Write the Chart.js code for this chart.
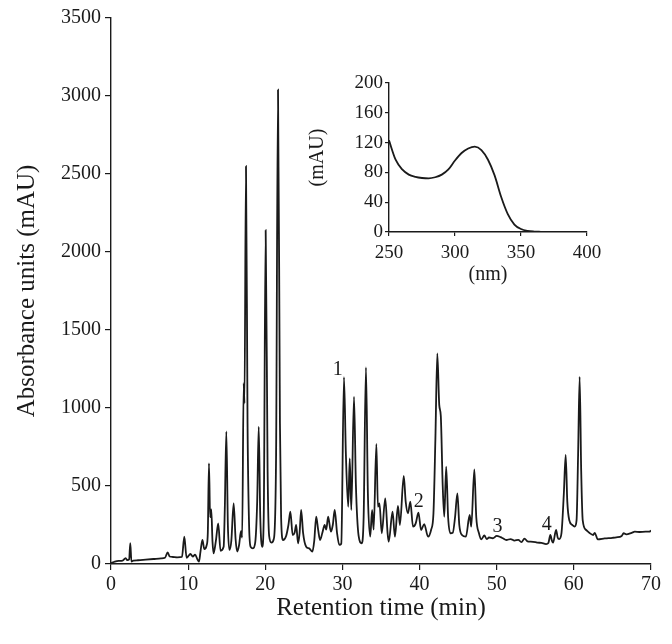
<!DOCTYPE html>
<html>
<head>
<meta charset="utf-8">
<script src="https://cdn.jsdelivr.net/npm/chart.js@4.4.1/dist/chart.umd.min.js"></script>
<style>
  html, body { margin: 0; padding: 0; background: #fff; }
  #wrap { position: relative; width: 672px; height: 644px; }
  #wrap canvas { position: absolute; left: 0; top: 0; }
</style>
</head>
<body>
<div id="wrap">
  <canvas id="mainChart" width="672" height="644"></canvas>
  <canvas id="insetChart" width="672" height="644"></canvas>
</div>
<script>
// chromatogram (min, mAU)
const retentionTimes = [
  0.0, 0.5, 1.0, 1.5, 1.9, 2.1, 2.35, 2.5, 2.65, 2.9, 3.5, 4.5, 5.5, 6.5, 7.0, 7.35, 7.6, 8.0, 8.6, 9.2,
  9.5, 9.8, 10.1, 10.3, 10.6, 10.9, 11.2, 11.4, 11.6, 11.85, 12.1, 12.4, 12.55, 12.7, 12.85, 13.0, 13.15, 13.3, 13.6, 13.9,
  14.2, 14.6, 14.75, 14.95, 15.15, 15.35, 15.6, 15.9, 16.15, 16.35, 16.6, 16.85, 17.0, 17.2, 17.3, 17.5, 17.7, 17.9, 18.1, 18.4,
  18.7, 18.95, 19.15, 19.35, 19.6, 19.8, 20.05, 20.3, 20.5, 20.8, 21.1, 21.4, 21.65, 21.9, 22.05, 22.3, 22.7, 23.0, 23.25, 23.55,
  23.8, 24.0, 24.25, 24.45, 24.65, 24.9, 25.3, 25.7, 26.1, 26.35, 26.6, 26.85, 27.1, 27.4, 27.7, 27.9, 28.15, 28.5, 28.75, 29.0,
  29.3, 29.6, 29.85, 30.2, 30.45, 30.75, 30.95, 31.15, 31.5, 31.75, 32.1, 32.5, 32.75, 33.05, 33.3, 33.6, 33.85, 34.05, 34.4, 34.6,
  34.8, 35.1, 35.55, 35.85, 36.0, 36.5, 36.8, 37.2, 37.45, 37.95, 38.2, 38.5, 38.8, 39.15, 39.5, 39.85, 40.2, 40.6, 41.1, 41.5,
  41.8, 42.05, 42.3, 42.55, 42.75, 43.0, 43.2, 43.45, 43.7, 44.0, 44.3, 44.6, 44.9, 45.15, 45.5, 46.0, 46.5, 46.7, 47.1, 47.35,
  47.7, 48.0, 48.4, 48.7, 49.0, 49.5, 50.0, 50.5, 50.8, 51.25, 51.8, 52.3, 52.8, 53.2, 53.6, 54.0, 54.4, 55.0, 55.3, 55.8,
  56.4, 56.7, 56.95, 57.15, 57.3, 57.7, 57.9, 58.1, 58.4, 58.7, 58.94, 59.15, 59.4, 59.8, 60.1, 60.35, 60.55, 60.75, 60.95, 61.15,
  61.6, 62.0, 62.5, 62.7, 63.1, 64.0, 65.0, 65.5, 66.2, 66.45, 66.8, 67.5, 67.9, 68.5, 69.3, 69.8, 70.0
];
const absorbance = [
  5, 15, 20, 22, 38, 25, 30, 133, 15, 22, 24, 28, 32, 36, 40, 75, 48, 45, 43, 45,
  175, 40, 55, 64, 48, 60, 30, 15, 80, 154, 95, 120, 200, 645, 300, 350, 150, 68, 150, 260,
  85, 110, 350, 850, 250, 90, 150, 389, 160, 80, 120, 210, 170, 1160, 1030, 2550, 900, 250, 110, 100,
  140, 400, 880, 300, 110, 300, 2140, 600, 180, 137, 160, 700, 3040, 900, 300, 154, 180, 250, 335, 186,
  200, 250, 133, 200, 346, 200, 111, 100, 79, 150, 303, 220, 154, 200, 250, 220, 303, 207, 250, 346,
  200, 122, 130, 1197, 700, 367, 677, 346, 1073, 500, 180, 133, 300, 1260, 450, 175, 346, 220, 770, 367,
  389, 197, 421, 200, 143, 335, 175, 372, 250, 564, 400, 325, 400, 239, 260, 329, 218, 256, 175, 220,
  325, 800, 1350, 1020, 950, 500, 303, 624, 300, 197, 200, 300, 453, 250, 186, 175, 314, 239, 607, 300,
  197, 158, 183, 160, 170, 165, 180, 172, 165, 154, 160, 150, 155, 140, 163, 145, 143, 140, 137, 135,
  128, 135, 186, 150, 137, 218, 170, 160, 200, 450, 699, 400, 282, 250, 240, 280, 700, 1200, 600, 280,
  218, 200, 186, 200, 158, 164, 168, 171, 180, 197, 190, 200, 207, 205, 207, 207, 215
];
const xTicks = [0, 10, 20, 30, 40, 50, 60, 70];
const yTicks = [0, 500, 1000, 1500, 2000, 2500, 3000, 3500];

// numbered peaks
const peakLabels = ['1', '2', '3', '4'];
const peakLabelTimes = [29.4, 39.9, 50.1, 56.5];
const peakLabelValues = [1244, 397, 237, 250];

// inset UV spectrum (nm, mAU)
const wavelengths = [250, 255, 260, 265, 270, 275, 280, 285, 290, 295, 300, 305, 310, 315, 320, 325, 330, 335, 340, 345, 350, 355, 360, 365, 370, 380, 390, 400];
const spectrum = [123, 97, 84, 77, 74, 72.5, 72, 73.5, 77, 84, 96, 106, 112, 114.5, 110, 97, 76, 47, 24, 10, 4, 1.5, 0.6, 0.3, 0.1, 0, 0, 0];
const insetXTicks = [250, 300, 350, 400];

const serif = "'Liberation Serif', 'DejaVu Serif', serif";
const ink = '#1a1a1a';

const peakLabelPlugin = {
  id: 'peakLabels',
  afterDatasetsDraw(chart) {
    const {ctx, scales} = chart;
    ctx.save();
    ctx.fillStyle = ink;
    ctx.font = '20px ' + serif;
    ctx.textAlign = 'center';
    ctx.textBaseline = 'middle';
    peakLabels.forEach((lbl, i) => {
      ctx.fillText(lbl, scales.x.getPixelForValue(peakLabelTimes[i]), scales.y.getPixelForValue(peakLabelValues[i]));
    });
    ctx.restore();
  }
};

const mainCtx = document.getElementById('mainChart').getContext('2d');
new Chart(mainCtx, {
  type: 'line',
  data: {
    datasets: [{
      data: retentionTimes.map((t, i) => ({x: t, y: absorbance[i]})),
      borderColor: ink,
      borderWidth: 1.8,
      pointRadius: 0,
      fill: false,
      cubicInterpolationMode: 'monotone'
    }]
  },
  options: {
    responsive: false,
    animation: false,
    layout: {padding: {top: 18, right: 21, left: 0, bottom: 0}},
    plugins: {legend: {display: false}, tooltip: {enabled: false}},
    scales: {
      x: {
        type: 'linear', min: 0, max: 70,
        afterFit: (s) => { s.height = 80; },
        afterBuildTicks: (s) => { s.ticks = xTicks.map(v => ({value: v})); },
        grid: {drawOnChartArea: false, drawTicks: true, tickLength: 6, color: ink, lineWidth: 1.2},
        border: {display: true, color: ink, width: 1.4},
        ticks: {color: ink, font: {family: serif, size: 20}, padding: 3, maxRotation: 0, callback: (v) => String(v)},
        title: {display: true, text: 'Retention time (min)', color: ink, font: {family: serif, size: 25}, padding: {top: 0, bottom: 21}}
      },
      y: {
        min: 0, max: 3500,
        afterFit: (s) => { s.width = 111; },
        afterBuildTicks: (s) => { s.ticks = yTicks.map(v => ({value: v})); },
        grid: {drawOnChartArea: false, drawTicks: true, tickLength: 6, color: ink, lineWidth: 1.2},
        border: {display: true, color: ink, width: 1.4},
        ticks: {color: ink, font: {family: serif, size: 20}, padding: 4, callback: (v) => String(v)},
        title: {display: true, text: 'Absorbance units (mAU)', color: ink, font: {family: serif, size: 25}, padding: {top: 12, bottom: 0}}
      }
    }
  },
  plugins: [peakLabelPlugin]
});

const insetCtx = document.getElementById('insetChart').getContext('2d');
new Chart(insetCtx, {
  type: 'line',
  data: {
    datasets: [{
      data: wavelengths.map((w, i) => ({x: w, y: spectrum[i]})),
      borderColor: ink,
      borderWidth: 1.8,
      pointRadius: 0,
      fill: false,
      cubicInterpolationMode: 'monotone'
    }]
  },
  options: {
    responsive: false,
    animation: false,
    layout: {padding: {top: 83, right: 85, left: 300, bottom: 344}},
    plugins: {legend: {display: false}, tooltip: {enabled: false}},
    scales: {
      x: {
        type: 'linear', min: 250, max: 400,
        afterFit: (s) => { s.height = 68; },
        afterBuildTicks: (s) => { s.ticks = insetXTicks.map(v => ({value: v})); },
        grid: {drawOnChartArea: false, drawTicks: true, tickLength: 4, color: ink, lineWidth: 1.2},
        border: {display: true, color: ink, width: 1.4},
        ticks: {color: ink, font: {family: serif, size: 19}, padding: 6, maxRotation: 0},
        title: {display: true, text: '(nm)', color: ink, font: {family: serif, size: 20}, padding: {top: 0, bottom: 13}}
      },
      y: {
        min: 0, max: 200,
        afterFit: (s) => { s.width = 89; },
        grid: {drawOnChartArea: false, drawTicks: true, tickLength: 4, color: ink, lineWidth: 1.2},
        border: {display: true, color: ink, width: 1.4},
        ticks: {
          color: ink, font: {family: serif, size: 19}, padding: 2, stepSize: 20,
          callback: (v) => (v % 40 === 0 ? String(v) : '')
        },
        title: {display: true, text: '(mAU)', color: ink, font: {family: serif, size: 20}, padding: {top: 6, bottom: 0}}
      }
    }
  }
});
</script>
</body>
</html>
